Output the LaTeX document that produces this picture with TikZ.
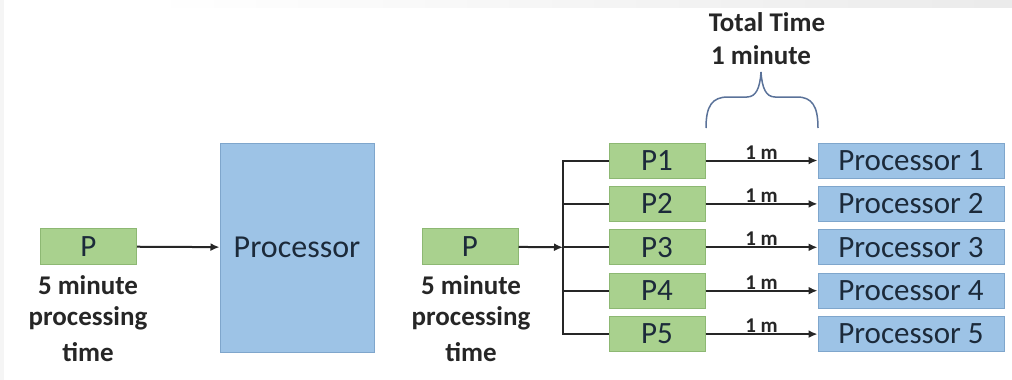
\documentclass[tikz,border=0pt]{standalone}
\usepackage{fontspec}
\setmainfont{Carlito}
\usetikzlibrary{arrows.meta,calc}
\definecolor{gfill}{HTML}{A9D18E}
\definecolor{gdraw}{HTML}{8DB873}
\definecolor{bfill}{HTML}{9DC3E6}
\definecolor{bdraw}{HTML}{7FA6CC}
\definecolor{boxtext}{HTML}{1C2A3A}
\definecolor{bracec}{HTML}{5A7299}
\begin{document}
\begin{tikzpicture}[x=1pt,y=-1pt,
  pbox/.style={draw=gdraw,fill=gfill,line width=1pt,minimum width=96pt,minimum height=35pt,inner sep=0pt,
    text=boxtext,font=\fontsize{31}{32}\selectfont},
  procbox/.style={draw=bdraw,fill=bfill,line width=1pt,minimum width=186pt,minimum height=35pt,inner sep=0pt,
    text=boxtext,font=\fontsize{31}{32}\selectfont},
  lbl/.style={font=\bfseries\fontsize{27}{28}\selectfont,inner sep=0pt,text=black!85},
  ml/.style={font=\bfseries\fontsize{21}{21}\selectfont,inner sep=0.5pt,text=black!85},
  conn/.style={line width=2pt,draw=black!85},
  arr/.style={conn,-{Latex[length=9pt,width=8pt]}}]
\useasboundingbox (0,0) rectangle (1012,380);
% faint top band
\shade[left color=white,right color=black!8] (150,0) rectangle (1012,7);
\fill[black!4] (0,0) rectangle (4,380);

% left part
\node[pbox,minimum height=36pt] (Pa) at (88.5,246.5) {P};
\node[draw=bdraw,fill=bfill,line width=1pt,minimum width=154pt,minimum height=209pt,inner sep=0pt,
  text=boxtext,font=\fontsize{32}{33}\selectfont] (Big) at (297,247.5) {Processor};
\draw[arr] (Pa) -- (Big);
\node[lbl] (a1) at (88,285) {5 minute};
\node[lbl] (a2) at (88,318) {processing};
\node[lbl] (a3) at (88,352) {time};

% right part
\node[pbox,minimum height=36pt] (Pb) at (470,246.5) {P};
\node[lbl] (b1) at (471,285) {5 minute};
\node[lbl] (b2) at (471,318) {processing};
\node[lbl] (b3) at (471,352) {time};
\coordinate (bus) at (563,247.3);
\draw[arr] (Pb) -- (bus);

\foreach \i/\y in {1/160.5,2/203.9,3/247.3,4/290.7,5/334.1}{
  \node[pbox] (P\i) at (657,\y) {P\i};
  \node[procbox] (Q\i) at (911,\y) {Processor \i};
  \draw[conn] (P\i.west) -- (P\i.west -| bus);
  \draw[arr] (P\i.east) -- node[ml,anchor=south] {1 m} (Q\i.west);
}
\draw[conn,line cap=rect] (P1.west -| bus) -- (P5.west -| bus);

% brace
\draw[bracec,line width=1.5pt] (706,128) .. controls (706,106) and (712,97) .. (728,97)
  -- (747,97) .. controls (756,97) and (760,88) .. (761,72)
  .. controls (762,88) and (766,97) .. (775,97) -- (797,97)
  .. controls (812,97) and (818,106) .. (818,128);
\node[lbl] (tt) at (767,22) {Total Time};
\node[lbl] (tm) at (761,55) {1 minute};
\end{tikzpicture}
\end{document}
